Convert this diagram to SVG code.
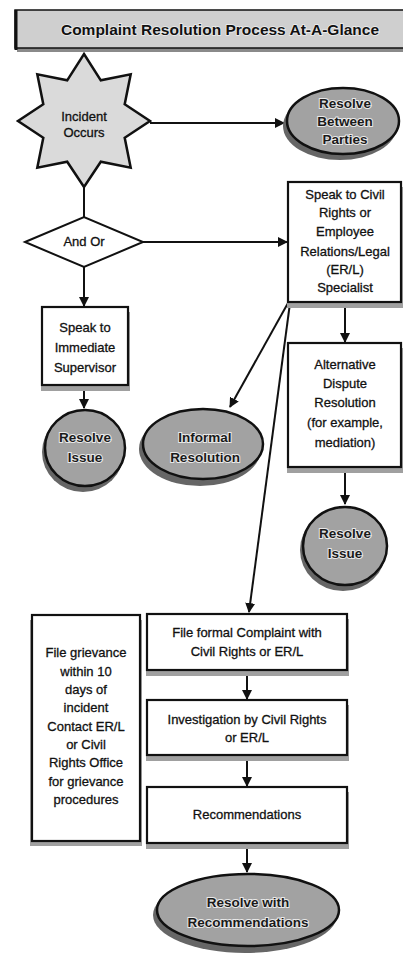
<svg xmlns="http://www.w3.org/2000/svg" width="403" height="961" viewBox="0 0 403 961">
  <style>
    .box { fill: #ffffff; stroke: #111; stroke-width: 2.2; }
    .shadow { fill: #a0a0a0; }
    .oval { fill: #a2a2a2; stroke: #111; stroke-width: 2.5; }
    .oval-shadow { fill: #666; }
    .txt { font-family: "Liberation Sans", Arial, sans-serif; font-size: 13px; fill: #111; text-anchor: middle; stroke: #111; stroke-width: 0.3; }
    .otxt { font-family: "Liberation Sans", Arial, sans-serif; font-size: 13.5px; font-weight: bold; fill: #1a1a1a; text-anchor: middle; stroke: #e8e8e8; stroke-width: 2; paint-order: stroke; }
    .conn { stroke: #111; stroke-width: 2; fill: none; }
  </style>
  <defs>
    <marker id="arrow" viewBox="0 0 10 10" refX="9" refY="5" markerWidth="5" markerHeight="5" orient="auto" markerUnits="strokeWidth">
      <path d="M0,0 L10,5 L0,10 z" fill="#111"/>
    </marker>
  </defs>

  <rect width="403" height="961" fill="#ffffff"/>

  <!-- title bar -->
  <g id="title">
    <rect x="17" y="14" width="390" height="38" fill="#8a8a8a"/>
    <rect x="15" y="10" width="392" height="38" fill="#cfcfcf" stroke="#111" stroke-width="1.5"/>
    <line x1="16" y1="10" x2="16" y2="50" stroke="#111" stroke-width="3"/>
    <text x="220" y="35" font-family="Liberation Sans, Arial, sans-serif" font-size="15.5" font-weight="bold" fill="#111" text-anchor="middle" stroke="#eee" stroke-width="1.5" paint-order="stroke">Complaint Resolution Process At-A-Glance</text>
  </g>

  <!-- connectors -->
  <g id="connectors">
    <line class="conn" x1="150" y1="123" x2="284" y2="123" marker-end="url(#arrow)"/>
    <line class="conn" x1="84" y1="186" x2="84" y2="218"/>
    <line class="conn" x1="143" y1="242" x2="287" y2="242" marker-end="url(#arrow)"/>
    <line class="conn" x1="84" y1="267" x2="84" y2="306" marker-end="url(#arrow)"/>
    <line class="conn" x1="84" y1="386" x2="84" y2="408" marker-end="url(#arrow)"/>
    <line class="conn" x1="288" y1="303" x2="230" y2="407" marker-end="url(#arrow)"/>
    <line class="conn" x1="290" y1="303" x2="249" y2="612" marker-end="url(#arrow)"/>
    <line class="conn" x1="345" y1="303" x2="345" y2="342" marker-end="url(#arrow)"/>
    <line class="conn" x1="345" y1="468" x2="345" y2="504" marker-end="url(#arrow)"/>
    <line class="conn" x1="247" y1="671" x2="247" y2="699" marker-end="url(#arrow)"/>
    <line class="conn" x1="247" y1="756" x2="247" y2="786" marker-end="url(#arrow)"/>
    <line class="conn" x1="247" y1="844" x2="247" y2="872" marker-end="url(#arrow)"/>
  </g>

  <!-- start: incident -->
  <g id="incident">
    <polygon points="84,54 100.8,80.3 130.7,74.3 124.7,104.2 150,121 124.7,137.8 130.7,167.7 100.8,161.7 84,187 67.2,161.7 37.3,167.7 43.3,137.8 18,121 43.3,104.2 37.3,74.3 67.2,80.3" fill="#dadada" stroke="#111" stroke-width="2.5" stroke-linejoin="miter"/>
    <text class="txt" x="84" y="121">Incident</text>
    <text class="txt" x="84" y="137">Occurs</text>
  </g>

  <g id="resolve-between-parties">
    <ellipse class="oval-shadow" cx="340" cy="126" rx="57" ry="34"/>
    <ellipse class="oval" cx="343" cy="121" rx="56" ry="33"/>
    <text class="otxt" x="345" y="108">Resolve</text>
    <text class="otxt" x="345" y="126">Between</text>
    <text class="otxt" x="345" y="144">Parties</text>
  </g>

  <g id="and-or">
    <polygon points="25,242 84,217 143,242 84,267" fill="#ffffff" stroke="#111" stroke-width="2"/>
    <text class="txt" x="84" y="246" font-size="11">And Or</text>
  </g>

  <g id="specialist">
    <rect class="shadow" x="287" y="187" width="116" height="121"/>
    <rect class="box" x="288" y="182" width="113" height="120"/>
    <text class="txt" x="345" y="199">Speak to Civil</text>
    <text class="txt" x="345" y="217">Rights or</text>
    <text class="txt" x="345" y="236">Employee</text>
    <text class="txt" x="345" y="256">Relations/Legal</text>
    <text class="txt" x="345" y="274">(ER/L)</text>
    <text class="txt" x="345" y="292">Specialist</text>
  </g>

  <g id="supervisor">
    <rect class="shadow" x="41" y="312" width="89" height="79"/>
    <rect class="box" x="42" y="307" width="86" height="78"/>
    <text class="txt" x="85" y="332">Speak to</text>
    <text class="txt" x="85" y="352">Immediate</text>
    <text class="txt" x="85" y="372">Supervisor</text>
  </g>

  <g id="resolve-issue-left">
    <ellipse class="oval-shadow" cx="83" cy="452" rx="41" ry="40"/>
    <ellipse class="oval" cx="85" cy="448" rx="40" ry="38"/>
    <text class="otxt" x="85" y="442">Resolve</text>
    <text class="otxt" x="85" y="462">Issue</text>
  </g>

  <g id="informal-resolution">
    <ellipse class="oval-shadow" cx="200" cy="449" rx="61" ry="37"/>
    <ellipse class="oval" cx="203" cy="444" rx="60" ry="35"/>
    <text class="otxt" x="205" y="442">Informal</text>
    <text class="otxt" x="205" y="462">Resolution</text>
  </g>

  <g id="adr">
    <rect class="shadow" x="287" y="348" width="116" height="125"/>
    <rect class="box" x="288" y="343" width="113" height="124"/>
    <text class="txt" x="345" y="369">Alternative</text>
    <text class="txt" x="345" y="388">Dispute</text>
    <text class="txt" x="345" y="407">Resolution</text>
    <text class="txt" x="345" y="427">(for example,</text>
    <text class="txt" x="345" y="447">mediation)</text>
  </g>

  <g id="resolve-issue-right">
    <ellipse class="oval-shadow" cx="343" cy="550" rx="43" ry="41"/>
    <ellipse class="oval" cx="345" cy="546" rx="42" ry="39"/>
    <text class="otxt" x="345" y="538">Resolve</text>
    <text class="otxt" x="345" y="558">Issue</text>
  </g>

  <g id="grievance">
    <rect class="shadow" x="30" y="620" width="112" height="226"/>
    <rect class="box" x="32" y="615" width="108" height="226"/>
    <text class="txt" x="86" y="657">File grievance</text>
    <text class="txt" x="86" y="676">within 10</text>
    <text class="txt" x="86" y="694">days of</text>
    <text class="txt" x="86" y="712">incident</text>
    <text class="txt" x="86" y="731">Contact ER/L</text>
    <text class="txt" x="86" y="749">or Civil</text>
    <text class="txt" x="86" y="767">Rights Office</text>
    <text class="txt" x="86" y="786">for grievance</text>
    <text class="txt" x="86" y="804">procedures</text>
  </g>

  <g id="formal-complaint">
    <rect class="shadow" x="146" y="619" width="203" height="57"/>
    <rect class="box" x="147" y="614" width="200" height="56"/>
    <text class="txt" x="247" y="637">File formal Complaint with</text>
    <text class="txt" x="247" y="656">Civil Rights or ER/L</text>
  </g>

  <g id="investigation">
    <rect class="shadow" x="146" y="705" width="203" height="56"/>
    <rect class="box" x="147" y="700" width="200" height="55"/>
    <text class="txt" x="247" y="724">Investigation by Civil Rights</text>
    <text class="txt" x="247" y="742">or ER/L</text>
  </g>

  <g id="recommendations">
    <rect class="shadow" x="146" y="792" width="203" height="57"/>
    <rect class="box" x="147" y="787" width="200" height="56"/>
    <text class="txt" x="247" y="819">Recommendations</text>
  </g>

  <g id="resolve-with-recommendations">
    <ellipse class="oval-shadow" cx="245" cy="915" rx="92" ry="38"/>
    <ellipse class="oval" cx="248" cy="910" rx="91" ry="36"/>
    <text class="otxt" x="248" y="907">Resolve with</text>
    <text class="otxt" x="248" y="927">Recommendations</text>
  </g>
</svg>
